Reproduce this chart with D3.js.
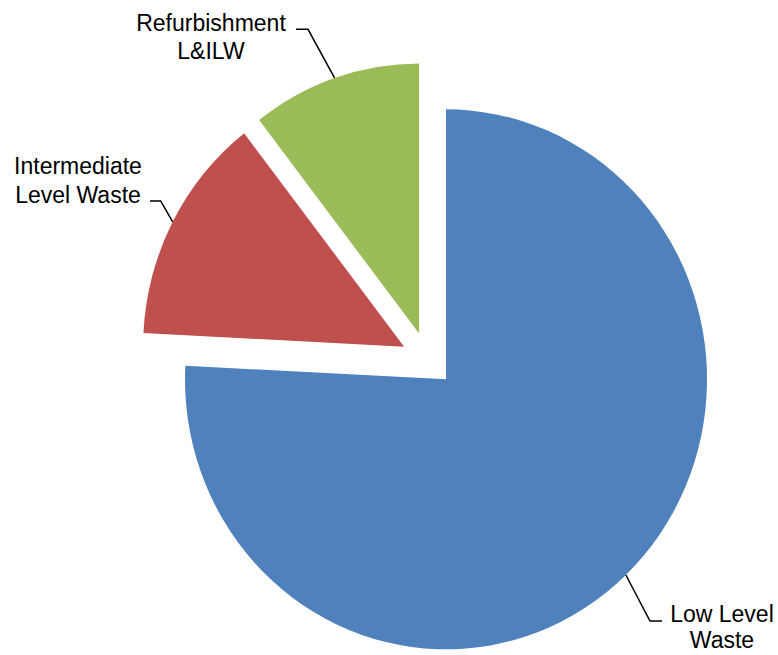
<!DOCTYPE html>
<html>
<head>
<script src="https://d3js.org/d3.v7.min.js"></script>
<style>
  body { margin: 0; background: #fff; }
  text { font-family: "Liberation Sans", Arial, sans-serif; font-size: 23px; fill: #000; }
</style>
</head>
<body>
<div class="chart"></div>
<script>
  var categories = ["Low Level Waste", "Intermediate Level Waste", "Refurbishment L&ILW"];
  var values = [75.8, 13.7, 10.5];
  var labelLines = [["Low Level", "Waste"], ["Intermediate", "Level Waste"], ["Refurbishment", "L&ILW"]];
  var colors = ["#4F81BD", "#C0504D", "#9BBB59"];

  var w = 778, h = 655;
  var cx = 427.7, cy = 359.4, r = 270, sx = 0.9667, explode = 27.5;

  // where each label's leader bends and ends, and where its text sits
  var labelLayout = [
    { elbow: [650, 621], end: [662, 621], x: 722, y: 622, gap: 26 },
    { elbow: [160.7, 201], end: [150, 201], x: 78, y: 174, gap: 28.5 },
    { elbow: [308, 29.3], end: [296, 29.3], x: 211, y: 31, gap: 28 }
  ];

  var svg = d3.select(".chart").append("svg")
    .attr("width", w)
    .attr("height", h);

  var pie = d3.pie().sort(null).value(function(d) { return d; });
  var arcs = pie(values);
  var arc = d3.arc().innerRadius(0).outerRadius(r);

  function offset(d, dist) {
    var a = (d.startAngle + d.endAngle) / 2;
    return [Math.sin(a) * dist, -Math.cos(a) * dist];
  }

  var g = svg.append("g")
    .attr("transform", "translate(" + cx + "," + cy + ") scale(" + sx + ",1)");

  g.selectAll("path")
    .data(arcs)
    .enter()
    .append("path")
    .attr("d", arc)
    .attr("fill", function(d, i) { return colors[i]; })
    .attr("transform", function(d) {
      var o = offset(d, explode);
      return "translate(" + o[0] + "," + o[1] + ")";
    });

  // leader lines start on the middle of each slice's rim
  arcs.forEach(function(d, i) {
    var o = offset(d, explode + r);
    var start = [cx + o[0] * sx, cy + o[1]];
    var L = labelLayout[i];
    svg.append("polyline")
      .attr("points", [start, L.elbow, L.end].map(function(p) { return p.join(","); }).join(" "))
      .attr("fill", "none")
      .attr("stroke", "#000")
      .attr("stroke-width", 1.5);

    var t = svg.append("text").attr("text-anchor", "middle");
    labelLines[i].forEach(function(line, j) {
      t.append("tspan")
        .attr("x", L.x)
        .attr("y", L.y + j * L.gap)
        .text(line);
    });
  });
</script>
</body>
</html>
